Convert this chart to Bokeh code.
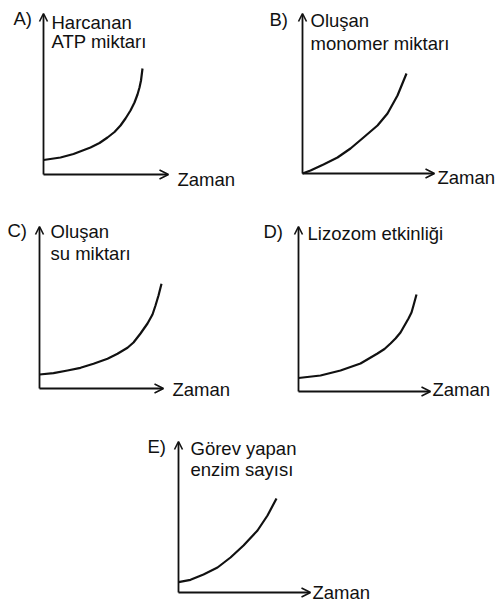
from bokeh.plotting import figure
from bokeh.models import Range1d, Arrow, OpenHead, Label, Spacer
from bokeh.layouts import column, row
from bokeh.embed import file_html
from bokeh.resources import INLINE

# ---- data: time vs. amount, one curve per option ----
a_time = [0.0, 1.7, 3.0, 4.7, 5.6, 6.4, 7.1, 7.7, 8.2, 8.7, 9.1, 9.4, 9.6, 9.75, 9.9]
a_value = [1.45, 1.7, 2.05, 2.7, 3.15, 3.7, 4.25, 4.9, 5.6, 6.4, 7.2, 8.0, 8.7, 9.4, 10.6]

b_time = [0.0, 0.8, 2.1, 3.5, 4.8, 6.1, 7.5, 8.5, 9.5, 10.4]
b_value = [0.0, 0.3, 0.9, 1.6, 2.5, 3.6, 4.8, 6.0, 7.8, 10.0]

c_time = [0.0, 1.4, 2.8, 4.1, 5.4, 6.8, 7.8, 8.8, 9.4, 10.1, 10.8, 11.3, 11.6, 11.9, 12.2]
c_value = [1.4, 1.53, 1.8, 2.07, 2.47, 2.97, 3.47, 4.07, 4.6, 5.5, 6.5, 7.4, 8.3, 9.3, 10.47]

d_time = [0.0, 2.2, 4.2, 6.2, 7.9, 8.6, 9.2, 9.7, 10.2, 10.6, 11.0, 11.3, 11.5, 11.8]
d_value = [1.35, 1.6, 2.1, 2.8, 3.8, 4.25, 4.8, 5.3, 5.9, 6.6, 7.3, 7.9, 8.6, 9.7]

e_time = [0.0, 1.2, 2.5, 3.9, 5.2, 6.5, 7.9, 8.9, 9.8]
e_value = [1.03, 1.27, 1.8, 2.5, 3.5, 4.7, 6.2, 7.7, 9.4]

letters = ["A)", "B)", "C)", "D)", "E)"]
y_titles = [
    ["Harcanan", "ATP miktarı"],
    ["Oluşan", "monomer miktarı"],
    ["Oluşan", "su miktarı"],
    ["Lizozom etkinliği"],
    ["Görev yapan", "enzim sayısı"],
]
x_title = "Zaman"

FONT = "Liberation Sans"
FSIZE = "18.5px"
INK = "#111111"
S = 10.0       # screen pixels per data unit
LIFT = 0.8     # label baseline correction, in data units


def panel(t, v, letter, titles, w, h, ox, oy, xtip, ytip,
          let_dx, let_dy, tit_dx, tit_dy, line_gap, zx, zy):
    p = figure(width=w, height=h, output_backend="svg", toolbar_location=None,
               x_range=Range1d(-ox / S, (w - ox) / S),
               y_range=Range1d(-(h - oy) / S, oy / S),
               x_axis_location=None, y_axis_location=None,
               min_border=0, outline_line_color=None,
               background_fill_color="white", border_fill_color="white")
    p.grid.visible = False

    # axes drawn as arrows from the origin
    p.add_layout(Arrow(x_start=0, y_start=0, x_end=xtip, y_end=0,
                       line_width=1.8, line_color=INK,
                       end=OpenHead(size=9, line_width=1.6, line_color=INK)))
    p.add_layout(Arrow(x_start=0, y_start=0, x_end=0, y_end=ytip,
                       line_width=1.8, line_color=INK,
                       end=OpenHead(size=8, line_width=1.6, line_color=INK)))

    p.line(t, v, line_width=2.2, line_color=INK, line_join="round")

    def lab(x, y, txt):
        p.add_layout(Label(x=x, y=y + LIFT, text=txt, text_font=FONT,
                           text_font_size=FSIZE, text_color=INK,
                           text_align="left", text_baseline="alphabetic"))

    lab(let_dx, let_dy, letter)
    for i, s in enumerate(titles):
        lab(tit_dx, tit_dy - i * line_gap, s)
    lab(zx, zy, x_title)
    return p


pa = panel(a_time, a_value, letters[0], y_titles[0], 250, 195, 43, 174, 12.5, 16.1,
           -3.0, 14.8, 0.8, 14.4, 1.85, 13.4, -1.3)
pb = panel(b_time, b_value, letters[1], y_titles[1], 249, 195, 52, 173, 13.2, 16.0,
           -3.3, 14.6, 0.8, 14.5, 2.25, 13.5, -1.2)
pc = panel(c_time, c_value, letters[2], y_titles[2], 250, 215, 39, 193, 12.4, 16.2,
           -3.2, 15.0, 1.1, 14.9, 2.2, 13.3, -0.9)
pd = panel(d_time, d_value, letters[3], y_titles[3], 249, 215, 48, 196, 13.2, 16.5,
           -3.5, 15.2, 0.9, 15.0, 2.2, 13.4, -0.6)
pe = panel(e_time, e_value, letters[4], y_titles[4], 250, 202, 48, 182, 13.2, 15.1,
           -3.1, 13.8, 1.2, 13.6, 2.1, 13.4, -0.8)

layout = column(row(pa, pb), row(pc, pd), row(Spacer(width=130, height=202), pe))

open("out.html", "w").write(file_html(layout, INLINE))
